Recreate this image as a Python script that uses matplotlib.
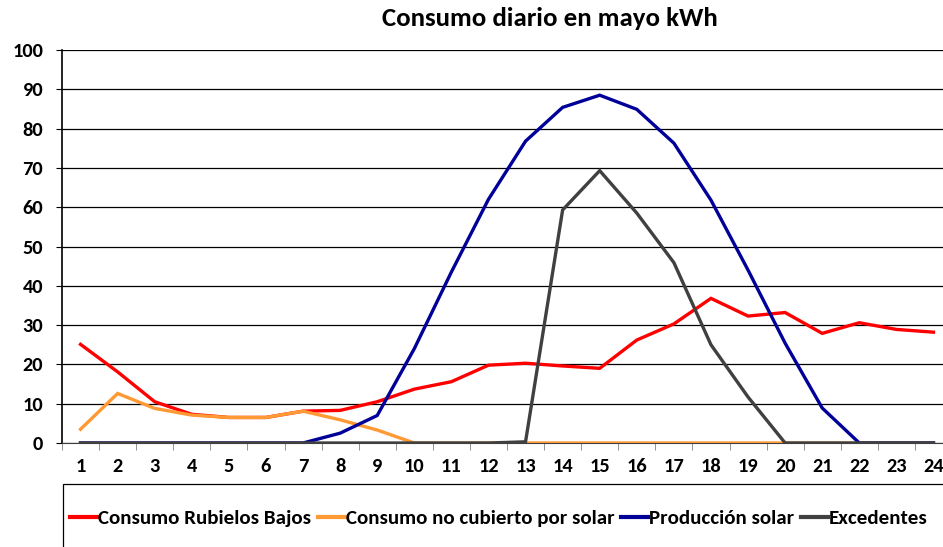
import matplotlib.pyplot as plt
from matplotlib.patches import Rectangle
from matplotlib.lines import Line2D
import numpy as np

horas = list(range(1, 25))
consumo = [25.1, 18.1, 10.5, 7.3, 6.5, 6.5, 8.1, 8.3, 10.5, 13.7, 15.6, 19.8,
           20.3, 19.6, 19.0, 26.2, 30.3, 36.8, 32.3, 33.2, 27.9, 30.6, 28.9, 28.2]
no_cubierto = [3.5, 12.6, 8.8, 7.1, 6.5, 6.5, 8.1, 5.9, 3.3, 0, 0, 0,
               0, 0, 0, 0, 0, 0, 0, 0, 0, 0, 0, 0]
produccion = [0, 0, 0, 0, 0, 0, 0, 2.5, 7, 24, 43.5, 62,
              76.8, 85.4, 88.5, 84.9, 76.3, 61.8, 44, 25.4, 8.9, 0, 0, 0]
excedentes = [0, 0, 0, 0, 0, 0, 0, 0, 0, 0, 0, 0,
              0.3, 59.3, 69.3, 58.5, 45.9, 25, 11.7, 0, 0, 0, 0, 0]

series = [
    ('Consumo Rubielos Bajos', consumo, '#FF0000'),
    ('Consumo no cubierto por solar', no_cubierto, '#FF9933'),
    ('Producción solar', produccion, '#000099'),
    ('Excedentes', excedentes, '#404040'),
]

fuente = ['Carlito', 'DejaVu Sans']
plt.rcParams['font.family'] = fuente

fig = plt.figure(figsize=(9.43, 5.47), dpi=100)
ax = fig.add_axes([62/943, 104/547, (952-62)/943, 393/547])

for nombre, valores, color in series:
    ax.plot(horas, valores, color=color, lw=2.4, label=nombre, solid_joinstyle='miter', zorder=3)

ax.set_xlim(0.5, 24.5)
ax.set_ylim(0, 100)
ax.set_yticks(range(0, 101, 10))
ax.yaxis.grid(True, color='black', lw=0.9)
ax.set_axisbelow(True)
ax.set_xticks(horas)
ax.set_xticks(np.arange(0.5, 25, 1), minor=True)
ax.tick_params(axis='x', which='major', length=0, pad=11, labelsize=14.7)
ax.tick_params(axis='x', which='minor', length=5, color='#808080')
ax.tick_params(axis='y', length=4.5, pad=9, labelsize=14.7)
for lbl in ax.get_xticklabels() + ax.get_yticklabels():
    lbl.set_fontweight('bold')
for s in ['top', 'right']:
    ax.spines[s].set_visible(False)
ax.spines['left'].set_color('black')
ax.spines['left'].set_linewidth(1.2)
ax.spines['bottom'].set_color('#404040')

fig.text(550/943, 1 - 18/547, 'Consumo diario en mayo kWh', ha='center', va='center',
         fontsize=19.4, fontweight='bold')

# caja de la leyenda (recortada por la imagen)
fig.patches.append(Rectangle((63/943, -0.05), 0.95, (547-484)/547 + 0.05,
                             transform=fig.transFigure, fill=False, edgecolor='black', lw=0.9))
handles = [Line2D([], [], color=c, lw=3) for _, _, c in series]
fig.legend(handles, [n for n, _, _ in series], loc='center left',
           bbox_to_anchor=(70/943, 1 - 518/547), ncol=4, frameon=False,
           handlelength=1.3, handletextpad=0.05, columnspacing=0.3, borderpad=0, borderaxespad=0,
           prop={'family': fuente, 'weight': 'bold', 'size': 15.1})

fig.savefig('out.png', dpi=100)
